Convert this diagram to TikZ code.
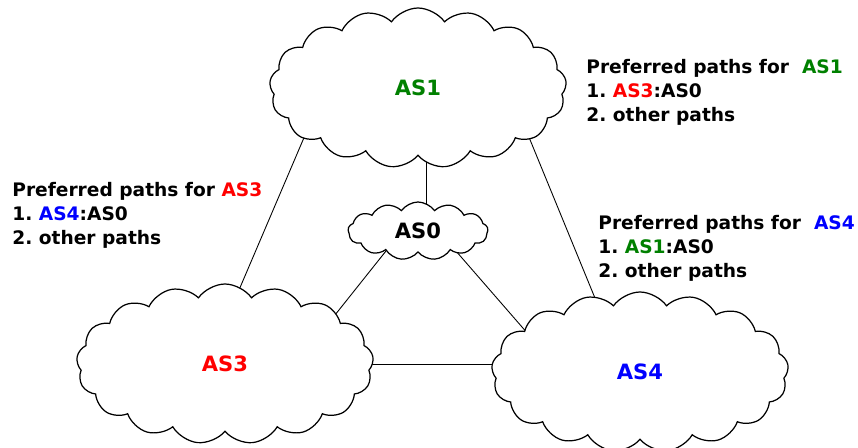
\documentclass[tikz,border=0pt]{standalone}
\usepackage{fontspec}
\setmainfont{DejaVu Sans}
\usetikzlibrary{shapes.symbols,calc,backgrounds}
\frenchspacing
\definecolor{asgreen}{RGB}{0,128,0}
\tikzset{
	as/.style={cloud, draw=black, fill=white, line width=0.7pt, cloud puffs=17, cloud puff arc=110, cloud ignores aspect,
		minimum width=5.94cm, minimum height=3.2cm, font=\fontsize{12}{14}\selectfont\bfseries},
	ascore/.style={as, cloud puffs=13, minimum width=2.8cm, minimum height=1.16cm},
	pref/.style={anchor=north west, inner sep=0pt, align=left, font=\fontsize{10.6}{13.6}\selectfont\bfseries},
	link/.style={draw=black, line width=0.5pt},
}

\begin{document}
\begin{tikzpicture}[x=0.02cm, y=-0.02cm]
		\useasboundingbox (0,0) rectangle (858,448);
		% the autonomous systems
		\node[as] (as1) at (418,88) {\textcolor{asgreen}{AS1}};
		\node[ascore] (as0) at (418,231) {AS0};
		\node[as] (as3) at (225,364) {\textcolor{red}{AS3}};
		\node[as] (as4) at (640,372) {\textcolor{blue}{AS4}};
		% preferences
		\node[pref] (pref1) at (586,59) {Preferred paths for\ \ \textcolor{asgreen}{AS1}\\1. \textcolor{red}{AS3}:AS0\\2. other paths};
		\node[pref] (pref3) at (12,182) {Preferred paths for \textcolor{red}{AS3}\\1. \textcolor{blue}{AS4}:AS0\\2. other paths};
		\node[pref] (pref4) at (598,215) {Preferred paths for\ \ \textcolor{blue}{AS4}\\1. \textcolor{asgreen}{AS1}:AS0\\2. other paths};
		% links, hidden under the clouds at both ends
		\begin{pgfonlayer}{background}
			\draw[link] ($(as1)+(8,0)$) -- ($(as0)+(8,0)$);
			\draw[link] ($(as1)+(-92.4,-1)$) -- ($(as3)+(-8.2,-22)$);
			\draw[link] ($(as1)+(89.4,-3.4)$) -- ($(as4)+(-23.8,-22.2)$);
			\draw[link] ($(as0)+(-20.7,5.8)$) -- ($(as3)+(80.5,-12)$);
			\draw[link] ($(as0)+(26,6.3)$) -- ($(as4)+(-88,-10.5)$);
			\draw[link] ($(as3)+(0,0)$) -- ($(as4)+(0,-8)$);
		\end{pgfonlayer}
	\end{tikzpicture}
\end{document}
